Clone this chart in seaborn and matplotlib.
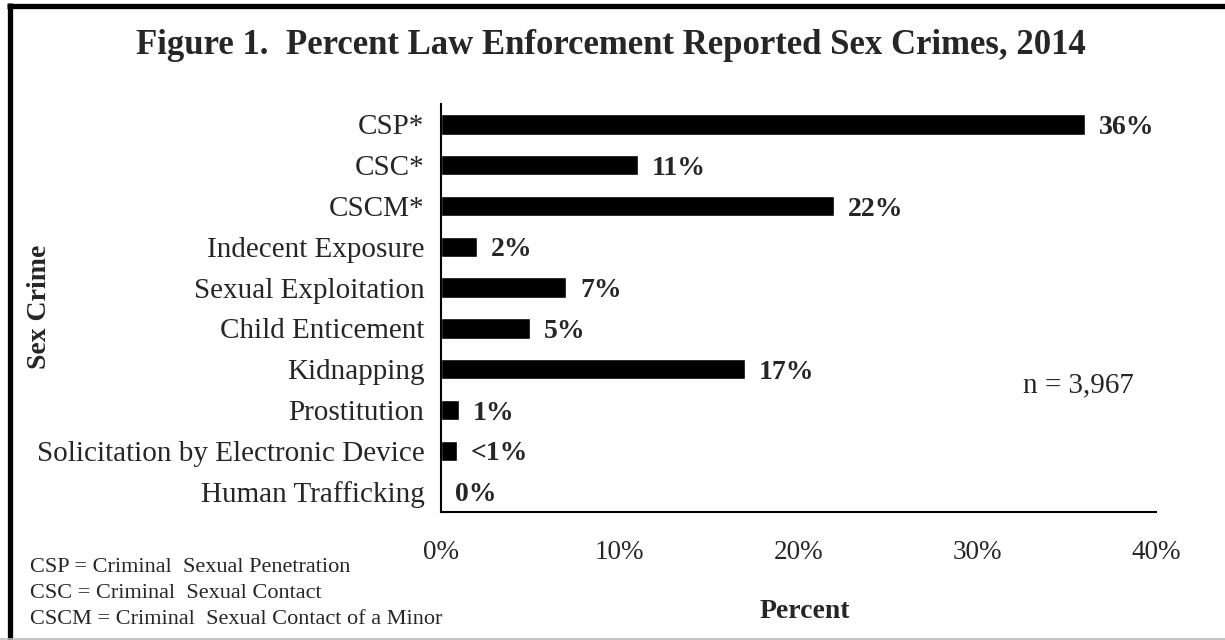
import matplotlib
matplotlib.use('Agg')
import matplotlib.pyplot as plt
import seaborn as sns
import pandas as pd
from matplotlib.lines import Line2D

# data
crimes = ['CSP*', 'CSC*', 'CSCM*', 'Indecent Exposure', 'Sexual Exploitation',
          'Child Enticement', 'Kidnapping', 'Prostitution',
          'Solicitation by Electronic Device', 'Human Trafficking']
percents = [36, 11, 22, 2, 7, 5, 17, 1, 0.9, 0]
bar_labels = ['36%', '11%', '22%', '2%', '7%', '5%', '17%', '1%', '<1%', '0%']
x_ticks = [0, 10, 20, 30, 40]
x_tick_labels = ['0%', '10%', '20%', '30%', '40%']
footnotes = ['CSP = Criminal  Sexual Penetration',
             'CSC = Criminal  Sexual Contact',
             'CSCM = Criminal  Sexual Contact of a Minor']

df = pd.DataFrame({'Crime': crimes, 'Percent': percents})

sns.set_style('white')
plt.rcParams['font.family'] = ['Liberation Serif', 'DejaVu Serif']

fig = plt.figure(figsize=(12.25, 6.4), dpi=100)
ax = fig.add_axes([441 / 1225, 1 - 512 / 640, (1156 - 441) / 1225, (512 - 104) / 640])

sns.barplot(data=df, x='Percent', y='Crime', orient='h', color='black',
            width=0.5, ax=ax, saturation=1)

# value labels, nudged a touch down so they sit level with the bars
texts = ax.bar_label(ax.containers[0], labels=bar_labels, padding=10,
                     fontsize=20, fontweight='bold')
for t in texts:
    t.set_va('center_baseline')

ax.set_xlim(0, 40)
ax.set_xticks(x_ticks)
ax.set_xticklabels(x_tick_labels, fontsize=19.5)
ax.tick_params(axis='x', length=0, pad=20)
ax.tick_params(axis='y', length=0, pad=12, labelsize=21)
ax.set_xlabel('')
ax.set_ylabel('')

for side in ['top', 'right']:
    ax.spines[side].set_visible(False)
for side in ['left', 'bottom']:
    ax.spines[side].set_color('black')
    ax.spines[side].set_linewidth(1.5)

fig.text(611 / 1225, 1 - 45 / 640, 'Figure 1.  Percent Law Enforcement Reported Sex Crimes, 2014',
         ha='center', va='center', fontsize=25, fontweight='bold')
fig.text(40 / 1225, 1 - 307 / 640, 'Sex Crime', rotation=90, ha='center', va='center',
         fontsize=20, fontweight='bold')
fig.text(805 / 1225, 1 - 611 / 640, 'Percent', ha='center', va='center',
         fontsize=20, fontweight='bold')
fig.text(1078 / 1225, 1 - 385 / 640, 'n = 3,967', ha='center', va='center', fontsize=21)

for i, line in enumerate(footnotes):
    fig.text(30 / 1225, 1 - (567 + 26 * i) / 640, line, ha='left', va='center', fontsize=16)

# frame round the figure: thick black left/top, thin grey bottom
fig.add_artist(Line2D([9.5 / 1225, 9.5 / 1225], [0, 1 - 3 / 640], transform=fig.transFigure,
                      color='black', linewidth=3.8, solid_capstyle='butt'))
fig.add_artist(Line2D([7 / 1225, 1], [1 - 5.5 / 640, 1 - 5.5 / 640], transform=fig.transFigure,
                      color='black', linewidth=3.8, solid_capstyle='butt'))
fig.add_artist(Line2D([0, 1], [1.5 / 640, 1.5 / 640], transform=fig.transFigure,
                      color='#bbbbbb', linewidth=1.2))

fig.savefig('out.png', dpi=100, facecolor='white')
